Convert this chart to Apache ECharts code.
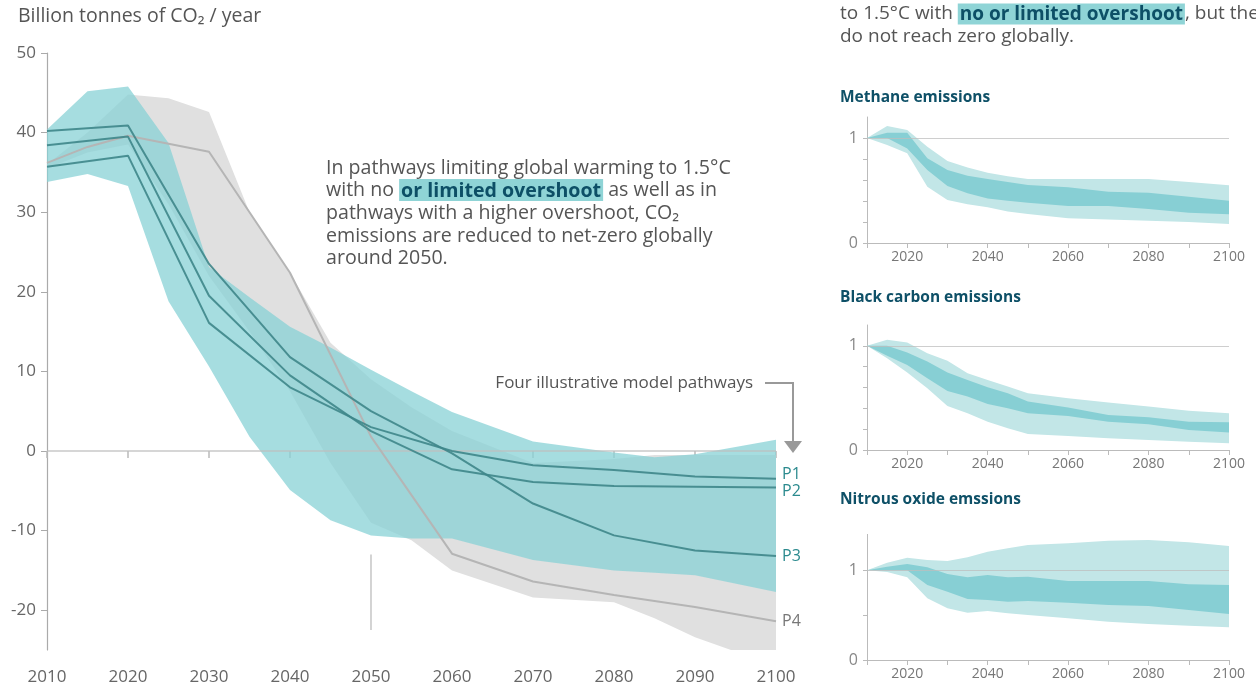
<!DOCTYPE html>
<html><head><meta charset="utf-8">
<script src="https://cdn.jsdelivr.net/npm/echarts@6/dist/echarts.min.js"></script>
<style>html,body{margin:0;padding:0;background:#fff}#c{width:1256px;height:688px}</style>
</head><body><div id="c"></div>
<script>
// ---- Main chart data (GtCO2 / yr) ----
const envYears  = [2010,2015,2020,2025,2030,2035,2040,2045,2050,2055,2060,2070,2080,2085,2090,2100];
const tealUpper = [40.4,45.2,45.8,38.7,23.1,19.3,15.6,13.0,10.2,7.5,4.9,1.2,-0.2,-0.8,-0.4,1.4];
const tealLower = [33.8,34.8,33.3,18.8,10.6,1.8,-4.9,-8.7,-10.6,-11.0,-11.0,-13.7,-15.0,-15.3,-15.6,-17.7];
const grayUpper = [36.0,40.0,44.8,44.3,42.6,30.0,22.4,13.6,9.0,5.5,2.5,-1.5,-1.0,-0.5,-0.5,-0.5];
const grayLower = [35.5,37.5,38.5,31.0,22.0,15.0,7.5,-1.5,-9.0,-11.2,-15.0,-18.4,-19.0,-21.0,-23.4,-27.0];

const pYears = [2010,2020,2030,2040,2050,2060,2070,2080,2090,2100];
const P1 = [35.7,37.1,16.1,8.0,3.0,0.0,-1.8,-2.4,-3.2,-3.5];
const P2 = [38.4,39.5,19.5,9.5,2.5,-2.3,-3.9,-4.4,-4.5,-4.6];
const P3 = [40.2,40.9,23.5,11.8,5.0,-0.3,-6.6,-10.6,-12.5,-13.2];
const p4Years = [2010,2015,2020,2030,2040,2050,2060,2070,2080,2090,2100];
const P4 = [36.2,38.2,39.6,37.6,22.4,1.8,-12.9,-16.4,-18.1,-19.6,-21.4];

const mainYTicks = [-20,-10,0,10,20,30,40,50];

// ---- Small panels (relative to 2010) ----
const panelYears = [2010,2015,2020,2025,2030,2035,2040,2045,2050,2060,2070,2080,2090,2100];
const ch4OuterUp = [1.0,1.114,1.076,0.917,0.78,0.72,0.67,0.635,0.61,0.61,0.61,0.61,0.58,0.55];
const ch4OuterLo = [1.0,0.933,0.854,0.536,0.41,0.37,0.34,0.30,0.276,0.235,0.225,0.212,0.2,0.18];
const ch4InnerUp = [1.0,1.05,1.05,0.806,0.695,0.64,0.61,0.58,0.552,0.53,0.489,0.479,0.441,0.403];
const ch4InnerLo = [1.0,1.0,0.9,0.695,0.543,0.473,0.425,0.403,0.384,0.352,0.352,0.324,0.289,0.273];

const bcOuterUp = [1.0,1.058,1.032,0.929,0.856,0.737,0.673,0.609,0.545,0.497,0.455,0.417,0.378,0.353];
const bcOuterLo = [1.0,0.88,0.744,0.593,0.423,0.353,0.272,0.208,0.154,0.135,0.112,0.096,0.080,0.064];
const bcInnerUp = [1.0,1.0,0.936,0.849,0.744,0.673,0.603,0.545,0.465,0.407,0.337,0.314,0.272,0.266];
const bcInnerLo = [1.0,0.904,0.817,0.689,0.567,0.513,0.442,0.401,0.353,0.327,0.272,0.247,0.192,0.167];

const n2oOuterUp = [1.0,1.085,1.141,1.115,1.104,1.145,1.208,1.245,1.282,1.30,1.33,1.338,1.312,1.271];
const n2oOuterLo = [1.0,0.981,0.922,0.688,0.576,0.528,0.546,0.520,0.502,0.464,0.427,0.401,0.382,0.364];
const n2oInnerUp = [1.0,1.04,1.07,1.033,0.959,0.922,0.948,0.922,0.929,0.881,0.881,0.881,0.844,0.836];
const n2oInnerLo = [1.0,1.0,1.0,0.836,0.762,0.680,0.669,0.650,0.658,0.639,0.613,0.602,0.557,0.513];

const panelTitles = ['Methane emissions','Black carbon emissions','Nitrous oxide emssions'];

const FONT = '"Open Sans", "Noto Sans", sans-serif';
const TEAL = 'rgba(136,210,214,0.75)', GRAY = '#e0e0e0', DARK = 'rgba(62,134,137,0.9)';
const OUT = '#c2e6e7', INN = '#87cfd4';

// band drawn as one polygon through the axes' scales (api.coord)
function band(id, xs, lo, up, color, idx, z) {
  return {
    type:'custom', id:id, xAxisIndex:idx, yAxisIndex:idx, silent:true, z:z, clip:true, animation:false,
    data: xs.map((x,i)=>[x, lo[i], up[i]]),
    encode:{x:0, y:[1,2]},
    renderItem:function(params, api){
      if (params.dataIndex !== 0) return null;
      const pts = [];
      for (let i=0;i<xs.length;i++) pts.push(api.coord([xs[i], up[i]]));
      for (let i=xs.length-1;i>=0;i--) pts.push(api.coord([xs[i], lo[i]]));
      return {type:'polygon', shape:{points:pts}, style:{fill:color, stroke:null}};
    }
  };
}
function pLine(name, xs, ys, color, labelColor, offY, extra) {
  return Object.assign({type:'line', name:name, xAxisIndex:0, yAxisIndex:0, data: xs.map((x,i)=>[x, ys[i]]),
    symbol:'none', showSymbol:false, lineStyle:{color:color, width:2}, z:5, animation:false, silent:true,
    endLabel:{show:true, formatter:name, color:labelColor, fontSize:16, fontFamily:FONT, distance:6, offset:[0,offY]}}, extra||{});
}
function refLine(idx) {
  return {type:'line', xAxisIndex:idx, yAxisIndex:idx, data:[], silent:true, z:4, animation:false,
    markLine:{silent:true, symbol:'none', label:{show:false}, animation:false,
      lineStyle:{color:'rgba(190,190,190,0.75)', width:1.2, type:'solid'}, data:[{yAxis:1}]}};
}

const yearFmt = v => String(v);
const grids = [
  {left:47, right:480, top:53, bottom:38},
  {left:867, right:27, top:117, bottom:445},
  {left:867, right:27, top:325, bottom:238},
  {left:867, right:27, top:534.4, bottom:28}
];
const xAxes = [
  {gridIndex:0, type:'value', min:2010, max:2100, interval:10,
   axisLine:{show:false}, axisTick:{show:true, length:7, lineStyle:{color:'#bbb', width:1.5}},
   axisLabel:{color:'#666', fontSize:17, fontFamily:FONT, margin:19, formatter:yearFmt}, splitLine:{show:false}}
];
const yAxes = [
  {gridIndex:0, type:'value', min:-25, max:50,
   axisLine:{show:true, lineStyle:{color:'#aaa', width:1.2}},
   axisTick:{show:true, length:6, customValues:mainYTicks, lineStyle:{color:'#aaa'}},
   axisLabel:{customValues:mainYTicks, color:'#666', fontSize:17, fontFamily:FONT, margin:11},
   splitLine:{show:false}}
];
const panelMax = [1.2, 1.2, 1.4];
const panelTicks = [[0,0.2,0.4,0.6,0.8,1],[0,0.2,0.4,0.6,0.8,1],[0,0.5,1]];
for (let k=1;k<=3;k++){
  xAxes.push({gridIndex:k, type:'value', min:2010, max:2100, interval:10,
    axisLine:{show:true, lineStyle:{color:'#bbb'}}, axisTick:{show:true, length:5, lineStyle:{color:'#bbb'}},
    axisLabel:{customValues:[2020,2040,2060,2080,2100], color:'#777', fontSize:14, fontFamily:FONT, margin:7, formatter:yearFmt},
    splitLine:{show:false}});
  yAxes.push({gridIndex:k, type:'value', min:0, max:panelMax[k-1],
    axisLine:{show:true, lineStyle:{color:'#bbb'}},
    axisTick:{show:true, length:4, customValues:panelTicks[k-1], lineStyle:{color:'#bbb'}},
    axisLabel:{customValues:[0,1], color:'#888', fontSize:16, fontFamily:FONT, margin:9},
    splitLine:{show:false}});
}

const series = [
  band('gray', envYears, grayLower, grayUpper, GRAY, 0, 1),
  band('teal', envYears, tealLower, tealUpper, TEAL, 0, 2),
  pLine('P4', p4Years, P4, '#b5b5b5', '#777', 0, {
    markLine:{silent:true, symbol:'none', label:{show:false}, animation:false,
      lineStyle:{color:'rgba(190,190,190,0.85)', width:1.6, type:'solid'},
      data:[ {yAxis:0}, [{coord:[2050,-13]},{coord:[2050,-22.5]}] ]}
  }),
  pLine('P3', pYears, P3, DARK, '#2b8a8e', 0),
  pLine('P2', pYears, P2, DARK, '#2b8a8e', 4),
  pLine('P1', pYears, P1, DARK, '#2b8a8e', -4),
  band('ch4o', panelYears, ch4OuterLo, ch4OuterUp, OUT, 1, 1),
  band('ch4i', panelYears, ch4InnerLo, ch4InnerUp, INN, 1, 2),
  refLine(1),
  band('bco', panelYears, bcOuterLo, bcOuterUp, OUT, 2, 1),
  band('bci', panelYears, bcInnerLo, bcInnerUp, INN, 2, 2),
  refLine(2),
  band('n2oo', panelYears, n2oOuterLo, n2oOuterUp, OUT, 3, 1),
  band('n2oi', panelYears, n2oInnerLo, n2oInnerUp, INN, 3, 2),
  refLine(3)
];

const FS = 19.6, FS2 = 19;
const txt = (t, x, y, size, color, extra) => ({type:'text', x:x, y:y, silent:true, z:10,
  style:Object.assign({text:t, font:'normal '+size+'px '+FONT, fill:color, verticalAlign:'middle'}, extra||{})});
const hlRich = (size) => ({
  n:{fill:'#555', font:'normal '+size+'px '+FONT},
  h:{fill:'#0d4f66', font:'bold '+size+'px '+FONT, backgroundColor:'#8fd4d6', padding:[2,2,0,2]}
});

const graphic = [
  txt('Billion tonnes of CO₂ / year', 18, 16, 19.5, '#555'),
  txt('In pathways limiting global warming to 1.5°C', 326, 168, FS, '#555'),
  {type:'text', x:326, y:190, silent:true, z:10, style:{text:'{n|with no }{h|or limited overshoot}{n| as well as in}', rich:hlRich(FS), verticalAlign:'middle'}},
  txt('pathways with a higher overshoot, CO₂', 326, 213, FS, '#555'),
  txt('emissions are reduced to net-zero globally', 326, 236, FS, '#555'),
  txt('around 2050.', 326, 258, FS, '#555'),
  {type:'text', x:840, y:14, silent:true, z:10, style:{text:'{n|to 1.5°C with }{h|no or limited overshoot}{n|, but they}', rich:hlRich(FS2), verticalAlign:'middle'}},
  txt('do not reach zero globally.', 840, 37, FS2, '#555'),
  txt(panelTitles[0], 840, 98, 15.5, '#0e5067', {font:'bold 15.5px '+FONT}),
  txt(panelTitles[1], 840, 298, 15.5, '#0e5067', {font:'bold 15.5px '+FONT}),
  txt(panelTitles[2], 840, 500, 15.5, '#0e5067', {font:'bold 15.5px '+FONT}),
  txt('Four illustrative model pathways', 753, 383, 17, '#555', {align:'right'}),
  {type:'polyline', silent:true, z:10, shape:{points:[[765,383],[793,383],[793,442]]}, style:{stroke:'#999', lineWidth:2, fill:null}},
  {type:'polygon', silent:true, z:10, shape:{points:[[784,441],[802,441],[793,453]]}, style:{fill:'#999'}}
];

const chart = echarts.init(document.getElementById('c'), null, {renderer:'canvas'});
chart.setOption({
  animation:false,
  backgroundColor:'#fff',
  textStyle:{fontFamily:FONT},
  grid:grids, xAxis:xAxes, yAxis:yAxes, series:series, graphic:graphic
});
</script></body></html>
